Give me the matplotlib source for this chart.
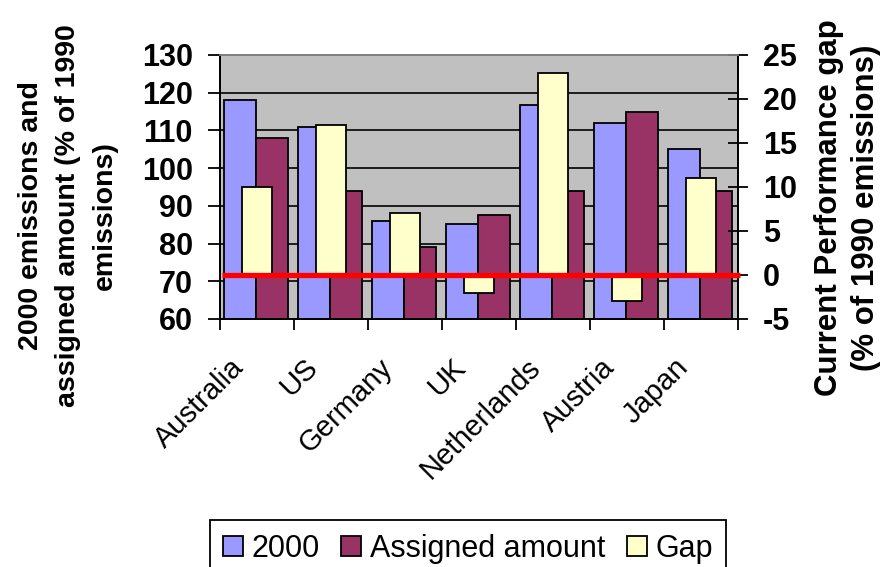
import matplotlib
matplotlib.use("Agg")
import matplotlib.pyplot as plt
import matplotlib.transforms as mtransforms
import numpy as np

plt.rcParams['font.family'] = ['Liberation Sans', 'DejaVu Sans']
plt.rcParams['axes.unicode_minus'] = False

# -------------------------
# data
# -------------------------
countries = ['Australia', 'US', 'Germany', 'UK', 'Netherlands', 'Austria', 'Japan']
emis_2000 = [118, 111, 86, 85.3, 116.7, 112, 105]     # % of 1990 emissions
assigned = [108, 94, 79, 87.5, 94, 115, 94]          # assigned amount
gap = [10, 17, 7, -2, 23, -3, 11]                     # current performance gap

left_ticks = [60, 70, 80, 90, 100, 110, 120, 130]
right_ticks = [-5, 0, 5, 10, 15, 20, 25]

col_2000 = '#9999FF'
col_assigned = '#993366'
col_gap = '#FFFFCC'

fig = plt.figure(figsize=(8.9, 5.67), dpi=100)
ax = fig.add_axes([220 / 890, 1 - 319 / 567, (738 - 220) / 890, (319 - 55) / 567])
ax2 = ax.twinx()

x = np.arange(len(countries))
w = 0.434

ax.set_facecolor('#C0C0C0')
ax.bar(x - w / 2 - 0.01, np.array(emis_2000) - 60, w, bottom=60, color=col_2000,
       edgecolor='black', linewidth=1.3, label='2000', zorder=2)
ax.bar(x + w / 2 - 0.01, np.array(assigned) - 60, w, bottom=60, color=col_assigned,
       edgecolor='black', linewidth=1.3, label='Assigned amount', zorder=2)
ax2.bar(x, gap, 0.41, color=col_gap, edgecolor='black', linewidth=1.3,
        label='Gap', zorder=2)
ax2.plot([-0.47, 6.53], [0, 0], color='#FF0000', linewidth=3.8,
         solid_capstyle='butt', clip_on=False, zorder=3)

ax.set_xlim(-0.5, 6.5)
ax.set_ylim(60, 130)
ax2.set_ylim(-5, 25)
ax.set_yticks(left_ticks)
ax2.set_yticks(right_ticks)

# gridlines, black like the original
for v in left_ticks[1:-1]:
    ax.axhline(v, color='black', linewidth=1.2, zorder=1)

# x ticks on category borders, labels at centres
ax.set_xticks(np.arange(-0.5, 7, 1))
ax.set_xticklabels([])
ax.set_xticks(x, minor=True)
ax.set_xticklabels(countries, minor=True, rotation=45, ha='right',
                   rotation_mode='anchor', fontsize=21)
ax.tick_params(axis='x', which='minor', length=0, pad=8)
ax.tick_params(axis='x', which='major', direction='out', length=8, width=1.3)
shift = mtransforms.ScaledTranslation(-0.27, -0.23, fig.dpi_scale_trans)
for lab in ax.xaxis.get_minorticklabels():
    lab.set_transform(lab.get_transform() + shift)

ax.tick_params(axis='y', direction='out', length=8.5, width=1.3, labelsize=22, pad=11)
ax2.tick_params(axis='y', direction='inout', length=14, width=1.3, labelsize=22, pad=11)
for lab in ax.get_yticklabels() + ax2.get_yticklabels():
    lab.set_fontweight('bold')

for a in (ax, ax2):
    for s in ('left', 'right', 'bottom'):
        a.spines[s].set_color('black')
        a.spines[s].set_linewidth(1.3)
    a.spines['top'].set_color('#808080')
    a.spines['top'].set_linewidth(1.3)

ax.set_ylabel('2000 emissions and\nassigned amount (% of 1990\nemissions)',
              fontsize=20.5, fontweight='bold', linespacing=1.55)
ax.yaxis.set_label_coords(-0.197, 0.39)
ax2.set_ylabel('Current Performance gap\n(% of 1990 emissions)',
               fontsize=22.5, fontweight='bold', linespacing=1.33)
ax2.yaxis.set_label_coords(1.146, 0.42)

h1, l1 = ax.get_legend_handles_labels()
h2, l2 = ax2.get_legend_handles_labels()
leg = fig.legend(h1 + h2, l1 + l2, loc='upper center', bbox_to_anchor=(468 / 890, 1 - 520 / 567),
                 ncol=3, fontsize=22, frameon=True, fancybox=False, framealpha=1,
                 edgecolor='black', handlelength=0.65, handleheight=0.65,
                 handletextpad=0.28, columnspacing=0.7, borderpad=0.45,
                 borderaxespad=0)
leg.get_frame().set_linewidth(1.3)

fig.savefig('out.png', dpi=100)
